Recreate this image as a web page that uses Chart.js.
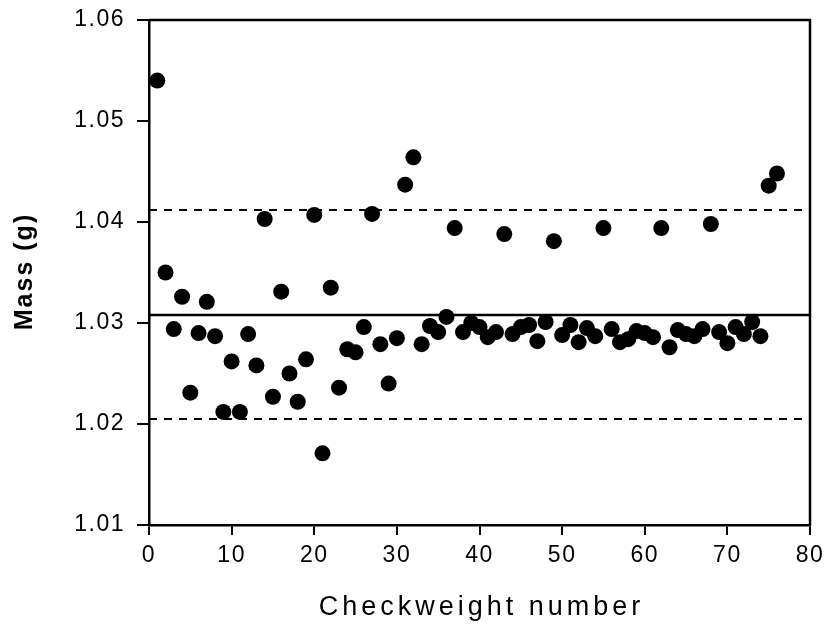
<!DOCTYPE html>
<html>
<head>
<meta charset="utf-8">
<script src="https://cdn.jsdelivr.net/npm/chart.js@4/dist/chart.umd.min.js"></script>
<style>
  html, body { margin: 0; padding: 0; background: #fff; }
  #wrap { width: 828px; height: 632px; }
</style>
</head>
<body>
<div id="wrap"><canvas id="c" width="828" height="632"></canvas></div>
<script>
const checkweightNumbers = [
  1, 2, 3, 4, 5, 6, 7, 8, 9, 10, 11, 12, 13, 14, 15, 16, 17, 18, 19, 20,
  21, 22, 23, 24, 25, 26, 27, 28, 29, 30, 31, 32, 33, 34, 35, 36, 37, 38, 39, 40,
  41, 42, 43, 44, 45, 46, 47, 48, 49, 50, 51, 52, 53, 54, 55, 56, 57, 58, 59, 60,
  61, 62, 63, 64, 65, 66, 67, 68, 69, 70, 71, 72, 73, 74, 75, 76
];
const massValues = [
  1.0540, 1.0350, 1.0294, 1.0326, 1.0231, 1.0290, 1.0321, 1.0287, 1.0212, 1.0262,
  1.0212, 1.0289, 1.0258, 1.0403, 1.0227, 1.0331, 1.0250, 1.0222, 1.0264, 1.0407,
  1.0171, 1.0335, 1.0236, 1.0274, 1.0271, 1.0296, 1.0408, 1.0279, 1.0240, 1.0285,
  1.0437, 1.0464, 1.0279, 1.0297, 1.0291, 1.0306, 1.0394, 1.0291, 1.0300, 1.0296,
  1.0286, 1.0291, 1.0388, 1.0289, 1.0296, 1.0298, 1.0282, 1.0301, 1.0381, 1.0288,
  1.0298, 1.0281, 1.0295, 1.0287, 1.0394, 1.0294, 1.0281, 1.0284, 1.0292, 1.0290,
  1.0286, 1.0394, 1.0276, 1.0293, 1.0289, 1.0287, 1.0294, 1.0398, 1.0291, 1.0280,
  1.0296, 1.0289, 1.0301, 1.0287, 1.0436, 1.0448
];
const meanMass = 1.0308;
const upperLimit = 1.0412;
const lowerLimit = 1.0205;
const xRange = [0, 80];
const yRange = [1.01, 1.06];
const xTickStep = 10;
const yTickStep = 0.01;
const xTitle = 'Checkweight number';
const yTitle = 'Mass (g)';

const points = checkweightNumbers.map((n, i) => ({ x: n, y: massValues[i] }));
const hLine = v => xRange.map(x => ({ x: x, y: v }));

const FONT = '"Liberation Sans", Arial, Helvetica, sans-serif';

const spacingPlugin = {
  id: 'spacing',
  beforeUpdate(chart) { chart.ctx.letterSpacing = '1.5px'; },
  beforeDraw(chart) { chart.ctx.letterSpacing = '1.5px'; }
};

const framePlugin = {
  id: 'frame',
  afterDraw(chart) {
    const a = chart.chartArea, ctx = chart.ctx;
    ctx.save();
    ctx.strokeStyle = '#000';
    ctx.lineWidth = 2.5;
    ctx.beginPath();
    ctx.moveTo(a.left, a.top);
    ctx.lineTo(a.right, a.top);
    ctx.lineTo(a.right, a.bottom);
    ctx.stroke();
    ctx.restore();
  }
};

const titlePlugin = {
  id: 'titles',
  afterDraw(chart) {
    const a = chart.chartArea, ctx = chart.ctx;
    ctx.save();
    ctx.fillStyle = '#000';
    ctx.textAlign = 'center';
    ctx.textBaseline = 'middle';
    ctx.letterSpacing = '4px';
    ctx.font = '27px ' + FONT;
    ctx.fillText(xTitle, (a.left + a.right) / 2 + 2, 608);
    ctx.translate(25, (a.top + a.bottom) / 2);
    ctx.rotate(-Math.PI / 2);
    ctx.letterSpacing = '2px';
    ctx.font = 'bold 25px ' + FONT;
    ctx.fillText(yTitle, 1, 0);
    ctx.restore();
  }
};

new Chart(document.getElementById('c'), {
  type: 'scatter',
  data: {
    datasets: [
      {
        data: points,
        pointRadius: 8,
        pointHoverRadius: 8,
        backgroundColor: '#000',
        borderWidth: 0,
        order: 0
      },
      {
        type: 'line',
        data: hLine(meanMass),
        borderColor: '#000',
        borderWidth: 2.5,
        pointRadius: 0,
        order: 1
      },
      {
        type: 'line',
        data: hLine(upperLimit),
        borderColor: '#000',
        borderWidth: 2,
        borderDash: [8, 7],
        pointRadius: 0,
        order: 1
      },
      {
        type: 'line',
        data: hLine(lowerLimit),
        borderColor: '#000',
        borderWidth: 2,
        borderDash: [8, 7],
        pointRadius: 0,
        order: 1
      }
    ]
  },
  options: {
    responsive: false,
    animation: false,
    events: [],
    layout: { padding: { top: 20, right: 18, left: 0, bottom: 0 } },
    plugins: { legend: { display: false }, tooltip: { enabled: false } },
    scales: {
      x: {
        type: 'linear',
        min: xRange[0],
        max: xRange[1],
        afterFit(s) { s.height = 107; s.paddingLeft = 0; s.paddingRight = 0; },
        ticks: {
          stepSize: xTickStep,
          color: '#000',
          font: { family: FONT, size: 23 },
          padding: 7,
          maxRotation: 0
        },
        grid: { drawOnChartArea: false, drawTicks: true, tickLength: 10, color: '#000', lineWidth: 2 },
        border: { display: true, color: '#000', width: 2.5 }
      },
      y: {
        type: 'linear',
        min: yRange[0],
        max: yRange[1],
        afterFit(s) { s.width = 149; s.paddingTop = 0; s.paddingBottom = 0; },
        ticks: {
          stepSize: yTickStep,
          color: '#000',
          font: { family: FONT, size: 23 },
          padding: 12,
          callback: v => v.toFixed(2)
        },
        grid: { drawOnChartArea: false, drawTicks: true, tickLength: 12, color: '#000', lineWidth: 2 },
        border: { display: true, color: '#000', width: 2.5 }
      }
    }
  },
  plugins: [spacingPlugin, framePlugin, titlePlugin]
});
</script>
</body>
</html>
